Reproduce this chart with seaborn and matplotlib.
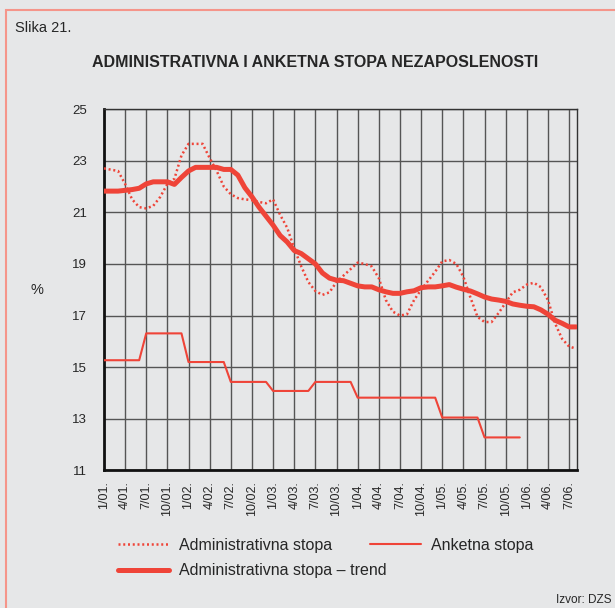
import pandas as pd
import matplotlib.pyplot as plt
import seaborn as sns
from matplotlib.lines import Line2D
from matplotlib.patches import Rectangle

# mjesecni podaci, 1/01. do 8/06.
admin = [22.7, 22.65, 22.6, 22.1, 21.5, 21.2, 21.15, 21.25, 21.6, 22.1, 22.3, 23.2,
         23.65, 23.65, 23.65, 23.1, 22.6, 22.0, 21.7, 21.55, 21.5, 21.47, 21.4, 21.35,
         21.5, 20.9, 20.4, 19.6, 18.9, 18.3, 17.95, 17.8, 17.9, 18.3, 18.55, 18.8,
         19.05, 19.0, 18.9, 18.45, 17.6, 17.15, 17.0, 17.05, 17.6, 18.0, 18.35, 18.7,
         19.1, 19.15, 19.0, 18.5, 17.7, 16.95, 16.75, 16.75, 17.1, 17.5, 17.9, 18.0,
         18.2, 18.27, 18.1, 17.6, 16.7, 16.1, 15.8, 15.72]

trend = [21.82, 21.82, 21.82, 21.85, 21.88, 21.93, 22.1, 22.18, 22.18, 22.18, 22.08, 22.35,
         22.6, 22.74, 22.74, 22.74, 22.74, 22.66, 22.66, 22.44, 21.95, 21.6, 21.2, 20.85,
         20.5, 20.1, 19.85, 19.52, 19.4, 19.2, 19.0, 18.65, 18.45, 18.37, 18.35, 18.25,
         18.15, 18.11, 18.11, 18.0, 17.92, 17.86, 17.86, 17.92, 17.96, 18.08, 18.11, 18.11,
         18.15, 18.2, 18.1, 18.02, 17.95, 17.84, 17.72, 17.64, 17.6, 17.55, 17.45, 17.4,
         17.36, 17.34, 17.22, 17.05, 16.82, 16.7, 16.56, 16.56]

anketna = [15.27] * 6 + [16.31] * 6 + [15.2] * 6 + [14.43] * 6 + [14.08] * 6 + \
          [14.43] * 6 + [13.82] * 12 + [13.05] * 6 + [12.28] * 6

tick_labels = ['1/01.', '4/01.', '7/01.', '10/01.', '1/02.', '4/02.', '7/02.', '10/02.',
               '1/03.', '4/03.', '7/03.', '10/03.', '1/04.', '4/04.', '7/04.', '10/04.',
               '1/05.', '4/05.', '7/05.', '10/05.', '1/06.', '4/06.', '7/06.']

red = '#ef4438'
bg = '#e6e7e8'

sns.set_style('white')
plt.rcParams['font.family'] = ['Liberation Sans', 'DejaVu Sans']

df_a = pd.DataFrame({'mj': range(len(admin)), 'v': admin})
df_t = pd.DataFrame({'mj': range(len(trend)), 'v': trend})
df_k = pd.DataFrame({'mj': range(len(anketna)), 'v': anketna})

fig = plt.figure(figsize=(6.15, 6.08), dpi=100, facecolor=bg)
ax = fig.add_axes([0.169, 0.2262, 0.769, 0.5945])
ax.set_facecolor(bg)

dots = (0, (0.8, 1.1))
sns.lineplot(data=df_a, x='mj', y='v', ax=ax, color=red, lw=1.8, linestyle=dots, zorder=3)
sns.lineplot(data=df_k, x='mj', y='v', ax=ax, color=red, lw=1.5, zorder=3)
sns.lineplot(data=df_t, x='mj', y='v', ax=ax, color=red, lw=3.6, zorder=4)

ax.set_xlim(0, 67.1)
ax.set_ylim(11, 25)
ax.set_xticks(range(0, 67, 3))
ax.set_xticklabels(tick_labels, rotation=90, fontsize=9)
ax.set_yticks(range(11, 26, 2))
ax.tick_params(axis='y', labelsize=9.5, length=5, width=1, color='#333333', pad=7)
ax.tick_params(axis='x', length=4, width=1, color='#333333', pad=4)
ax.set_xlabel('')
ax.set_ylabel('')
ax.grid(True, color='#555555', lw=1.0)
ax.set_axisbelow(True)
for s in ['top', 'right']:
    ax.spines[s].set_color('#333333')
    ax.spines[s].set_linewidth(1.0)
for s in ['left', 'bottom']:
    ax.spines[s].set_color('#111111')
    ax.spines[s].set_linewidth(2.0)

fig.text(0.06, 0.523, '%', fontsize=10.5, ha='center', va='center')
fig.text(0.024, 0.954, 'Slika 21.', fontsize=10.5, ha='left', va='center')
fig.text(0.512, 0.898, 'ADMINISTRATIVNA I ANKETNA STOPA NEZAPOSLENOSTI',
         fontsize=11.5, fontweight='bold', ha='center', va='center')
fig.text(0.995, 0.013, 'Izvor: DZS', fontsize=8.5, ha='right', va='center')

leg_kw = dict(loc='upper left', frameon=False, fontsize=11.5, handlelength=3.2,
              handletextpad=0.6, labelspacing=0.65, borderpad=0, borderaxespad=0)
h_admin = Line2D([], [], color=red, lw=1.8, linestyle=dots)
h_trend = Line2D([], [], color=red, lw=3.6)
h_ank = Line2D([], [], color=red, lw=1.5)
fig.legend([h_admin, h_trend], ['Administrativna stopa', 'Administrativna stopa – trend'],
           bbox_to_anchor=(0.192, 0.115), **leg_kw)
fig.legend([h_ank], ['Anketna stopa'], bbox_to_anchor=(0.602, 0.115), **leg_kw)

# okvir
fig.add_artist(Rectangle((6 / 615, -0.5), 2.0, 1.5 - 10 / 608, transform=fig.transFigure,
                         fill=False, edgecolor='#f5958a', lw=1.5))

plt.savefig('out.png', dpi=100, facecolor=bg)
